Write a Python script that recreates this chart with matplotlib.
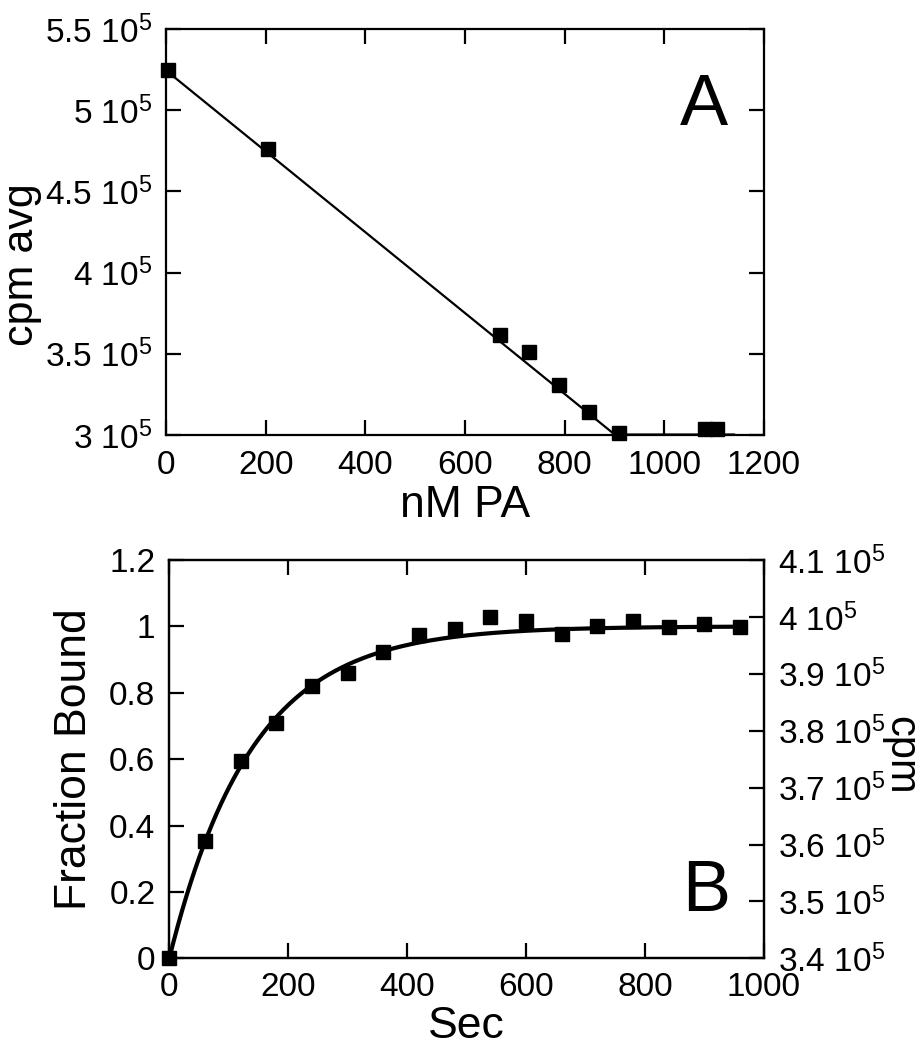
import matplotlib
matplotlib.use("Agg")
import matplotlib.pyplot as plt
import numpy as np

plt.rcParams['font.family'] = ['Liberation Sans', 'DejaVu Sans']
plt.rcParams['mathtext.fontset'] = 'custom'
plt.rcParams['mathtext.rm'] = 'Liberation Sans'
plt.rcParams['mathtext.it'] = 'Liberation Sans:italic'
plt.rcParams['mathtext.default'] = 'regular'

# panel A: titration
pa_nM = [5, 204, 671, 729, 789, 848, 910, 1082, 1106]
cpm_avg = [5.247e5, 4.761e5, 3.614e5, 3.513e5, 3.308e5, 3.14e5, 3.01e5, 3.04e5, 3.04e5]
fit_a_intercept = 5.245e5
fit_a_slope = -249.0
fit_a_plateau = 3.003e5
fit_a_xmax = 1140

a_yticks = [3e5, 3.5e5, 4e5, 4.5e5, 5e5, 5.5e5]
a_yticklabels = ['3 10$^{5}$', '3.5 10$^{5}$', '4 10$^{5}$', '4.5 10$^{5}$', '5 10$^{5}$', '5.5 10$^{5}$']
a_xticks = [0, 200, 400, 600, 800, 1000, 1200]

# panel B: time course
sec = [0, 60, 120, 180, 240, 300, 360, 420, 480, 540, 600, 660, 720, 780, 840, 900, 960]
frac_bound = [0.0, 0.353, 0.594, 0.709, 0.821, 0.86, 0.922, 0.974, 0.992, 1.027,
              1.017, 0.976, 1.001, 1.016, 0.999, 1.007, 0.999]
fit_b_k = 0.0072
fit_b_amp = 1.0

b_yticks = [0, 0.2, 0.4, 0.6, 0.8, 1.0, 1.2]
b_yticklabels = ['0', '0.2', '0.4', '0.6', '0.8', '1', '1.2']
b_xticks = [0, 200, 400, 600, 800, 1000]
cpm_ticks = [3.4e5, 3.5e5, 3.6e5, 3.7e5, 3.8e5, 3.9e5, 4.0e5, 4.1e5]
cpm_ticklabels = ['3.4 10$^{5}$', '3.5 10$^{5}$', '3.6 10$^{5}$', '3.7 10$^{5}$',
                  '3.8 10$^{5}$', '3.9 10$^{5}$', '4 10$^{5}$', '4.1 10$^{5}$']

TICK_FS = 24
LABEL_FS = 32


def style_axis(ax):
    for s in ax.spines.values():
        s.set_linewidth(1.6)
    ax.tick_params(direction='in', length=11, width=1.6, labelsize=TICK_FS)


fig = plt.figure(figsize=(9.2, 10.5), dpi=100)

# ---- A ----
axA = fig.add_axes([0.1804, 0.5857, 0.65, 0.3867])
xf = np.linspace(0, fit_a_xmax, 400)
yf = np.maximum(fit_a_intercept + fit_a_slope * xf, fit_a_plateau)
axA.plot(xf, yf, color='black', lw=1.6, zorder=2)
axA.plot(pa_nM, cpm_avg, 's', color='black', ms=10, mew=1, zorder=3, clip_on=False)
axA.set_xlim(0, 1200)
axA.set_ylim(3e5, 5.5e5)
axA.set_xticks(a_xticks)
axA.set_yticks(a_yticks)
axA.set_yticklabels(a_yticklabels)
style_axis(axA)
axA.tick_params(top=True, right=True, labeltop=False, labelright=False)
axA.tick_params(axis='x', pad=11)
axA.tick_params(axis='y', pad=10)
axA.set_xlabel('nM PA', fontsize=LABEL_FS, labelpad=3)
axA.set_ylabel('cpm avg', fontsize=31)
axA.yaxis.set_label_coords(-0.208, 0.42)
axA.text(0.9, 0.81, 'A', transform=axA.transAxes, fontsize=52, ha='center', va='center')

# ---- B ----
axB = fig.add_axes([0.184, 0.0873, 0.6464, 0.3794])
tf = np.linspace(0, 960, 400)
axB.plot(tf, fit_b_amp * (1 - np.exp(-fit_b_k * tf)), color='black', lw=3, zorder=2)
axB.plot(sec, frac_bound, 's', color='black', ms=10, mew=1, zorder=3, clip_on=False)
axB.set_xlim(0, 1000)
axB.set_ylim(0, 1.2)
axB.set_xticks(b_xticks)
axB.set_yticks(b_yticks)
axB.set_yticklabels(b_yticklabels)
style_axis(axB)
axB.tick_params(top=True, right=False, labeltop=False)
axB.tick_params(axis='x', pad=10)
axB.tick_params(axis='y', pad=10)
axB.set_xlabel('Sec', fontsize=LABEL_FS, labelpad=2)
axB.set_ylabel('Fraction Bound', fontsize=LABEL_FS)
axB.yaxis.set_label_coords(-0.125, 0.5)
axB.text(0.9025, 0.165, 'B', transform=axB.transAxes, fontsize=52, ha='center', va='center')

axR = axB.twinx()
axR.set_ylim(3.4e5, 4.1e5)
axR.set_yticks(cpm_ticks)
axR.set_yticklabels(cpm_ticklabels)
style_axis(axR)
axR.tick_params(axis='y', pad=10)
axR.set_ylabel('cpm', fontsize=30, rotation=270)
axR.yaxis.set_label_coords(1.262, 0.51)

fig.savefig('out.png', dpi=100)
